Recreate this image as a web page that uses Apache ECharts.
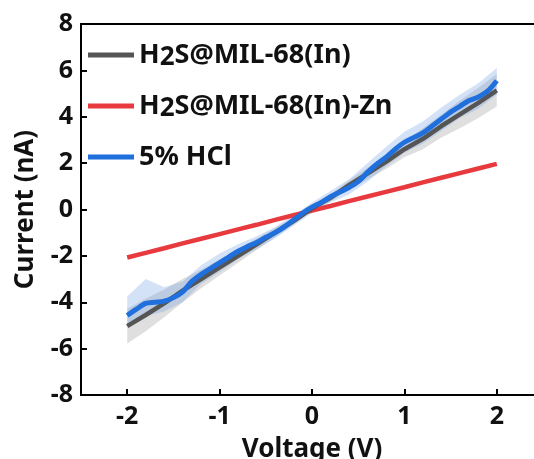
<!DOCTYPE html>
<html>
<head>
<meta charset="utf-8">
<script src="https://cdn.jsdelivr.net/npm/echarts@6/dist/echarts.min.js"></script>
<style>html,body{margin:0;padding:0;background:#fff}#c{width:534px;height:459px}</style>
</head>
<body>
<div id="c"></div>
<script>
// ---- data ----
const seriesNames = ['H2S@MIL-68(In)', 'H2S@MIL-68(In)-Zn', '5% HCl'];
const xTicks = [-2, -1, 0, 1, 2];
const voltage = [-2.0,-1.8,-1.6,-1.4,-1.2,-1.0,-0.8,-0.6,-0.4,-0.2,0.0,0.2,0.4,0.6,0.8,1.0,1.2,1.4,1.6,1.8,2.0];
const grayCurrent = [-5.03,-4.55,-4.05,-3.5,-3.0,-2.5,-2.0,-1.5,-1.0,-0.5,0.05,0.5,1.05,1.55,2.05,2.6,3.05,3.6,4.1,4.6,5.14];
const grayLower = [-5.78,-5.25,-4.65,-4.0,-3.4,-2.85,-2.3,-1.75,-1.2,-0.65,-0.07,0.35,0.85,1.3,1.75,2.25,2.6,3.1,3.5,3.95,4.44];
const grayUpper = [-4.28,-3.85,-3.45,-3.0,-2.6,-2.15,-1.7,-1.25,-0.8,-0.35,0.17,0.65,1.25,1.8,2.35,2.95,3.5,4.1,4.7,5.25,5.84];
const redCurrent = [-2.07,-1.87,-1.67,-1.46,-1.26,-1.06,-0.86,-0.66,-0.45,-0.25,-0.05,0.15,0.36,0.56,0.76,0.96,1.17,1.37,1.57,1.77,1.97];
const blueLower = [-5.0,-4.6,-4.4,-4.0,-3.2,-2.7,-2.15,-1.7,-1.25,-0.7,-0.15,0.3,0.65,1.2,1.85,2.45,2.85,3.4,3.95,4.35,4.95];
const blueUpper = [-3.75,-3.0,-3.35,-3.1,-2.4,-1.9,-1.5,-1.15,-0.75,-0.25,0.3,0.8,1.3,2.0,2.7,3.35,3.8,4.4,4.95,5.45,6.1];
const voltageFine = [-2.0,-1.9,-1.8,-1.7,-1.6,-1.5,-1.4,-1.3,-1.2,-1.1,-1.0,-0.9,-0.8,-0.7,-0.6,-0.5,-0.4,-0.3,-0.2,-0.1,0.0,0.1,0.2,0.3,0.4,0.5,0.6,0.7,0.8,0.9,1.0,1.1,1.2,1.3,1.4,1.5,1.6,1.7,1.8,1.9,2.0];
const blueCurrent = [-4.57,-4.3,-4.05,-4.0,-3.95,-3.8,-3.55,-3.1,-2.8,-2.55,-2.3,-2.05,-1.8,-1.6,-1.42,-1.2,-1.0,-0.75,-0.45,-0.15,0.1,0.3,0.55,0.75,0.95,1.2,1.6,1.95,2.25,2.6,2.9,3.1,3.3,3.6,3.9,4.2,4.45,4.7,4.85,5.1,5.55];

// ---- build ----
const zip = (xs, ys) => xs.map((x, i) => [x, ys[i]]);
const FONT = 'Noto Sans';
const colors = { gray: '#555555', red: '#e8393e', blue: '#1f6fdc' };

// band drawn as one polygon through the axis scales
const band = (id, lo, hi, col) => ({
  name: id, type: 'custom', z: 1, silent: true,
  data: voltage.map((x, i) => [x, lo[i], hi[i]]),
  encode: { x: 0, y: [1, 2] },
  renderItem: (params, api) => {
    if (params.dataIndex !== 0) return null;
    const top = voltage.map((x, i) => api.coord([x, hi[i]]));
    const bot = voltage.map((x, i) => api.coord([x, lo[i]])).reverse();
    return { type: 'polygon', shape: { points: top.concat(bot) }, style: { fill: col } };
  }
});

const chart = echarts.init(document.getElementById('c'), null, { renderer: 'canvas' });
chart.setOption({
  animation: false,
  backgroundColor: '#fff',
  grid: { left: 81, top: 24, bottom: 64, right: -9, outerBoundsMode: 'none', containLabel: false,
          show: true, borderColor: '#000', borderWidth: 2, backgroundColor: 'transparent' },
  legend: {
    data: seriesNames, orient: 'vertical', left: 83, top: 35,
    icon: 'rect', itemWidth: 46, itemHeight: 5, itemGap: 20,
    formatter: n => n.replace('H2S', 'H{sub|2}S'),
    textStyle: {
      fontFamily: FONT, fontWeight: 'bold', fontSize: 27, color: '#111', lineHeight: 30,
      rich: { sub: { fontFamily: FONT, fontWeight: 'bold', fontSize: 26, color: '#111', padding: [6, 0, 0, 0] } }
    }
  },
  xAxis: {
    type: 'value', min: -2.5, max: 2.5,
    name: 'Voltage (V)', nameLocation: 'middle', nameGap: 42,
    nameTextStyle: { fontFamily: FONT, fontWeight: 'bold', fontSize: 26, color: '#111' },
    axisLine: { onZero: false, lineStyle: { color: '#000', width: 2 } },
    axisTick: { inside: true, length: 6, lineStyle: { width: 2, color: '#000' }, customValues: xTicks },
    axisLabel: { customValues: xTicks, margin: 9, fontFamily: FONT, fontWeight: 'bold', fontSize: 25, color: '#111' },
    splitLine: { show: false }
  },
  yAxis: {
    type: 'value', min: -8, max: 8, interval: 2,
    name: 'Current (nA)', nameLocation: 'middle', nameGap: 42,
    nameTextStyle: { fontFamily: FONT, fontWeight: 'bold', fontSize: 26, color: '#111' },
    axisLine: { onZero: false, lineStyle: { color: '#000', width: 2 } },
    axisTick: { inside: true, length: 6, lineStyle: { width: 2, color: '#000' } },
    axisLabel: { margin: 8, fontFamily: FONT, fontWeight: 'bold', fontSize: 25, color: '#111' },
    splitLine: { show: false }
  },
  series: [
    band('grayBand', grayLower, grayUpper, 'rgba(150,150,150,0.30)'),
    band('blueBand', blueLower, blueUpper, 'rgba(110,160,225,0.30)'),
    { name: seriesNames[1], type: 'line', data: zip(voltage, redCurrent), showSymbol: false, color: colors.red, lineStyle: { width: 4.5, color: colors.red }, z: 3 },
    { name: seriesNames[0], type: 'line', data: zip(voltage, grayCurrent), showSymbol: false, color: colors.gray, lineStyle: { width: 4.5, color: colors.gray }, z: 4 },
    { name: seriesNames[2], type: 'line', smooth: 0.3, data: zip(voltageFine, blueCurrent), showSymbol: false, color: colors.blue, lineStyle: { width: 5, color: colors.blue }, z: 5 }
  ]
});
</script>
</body>
</html>
